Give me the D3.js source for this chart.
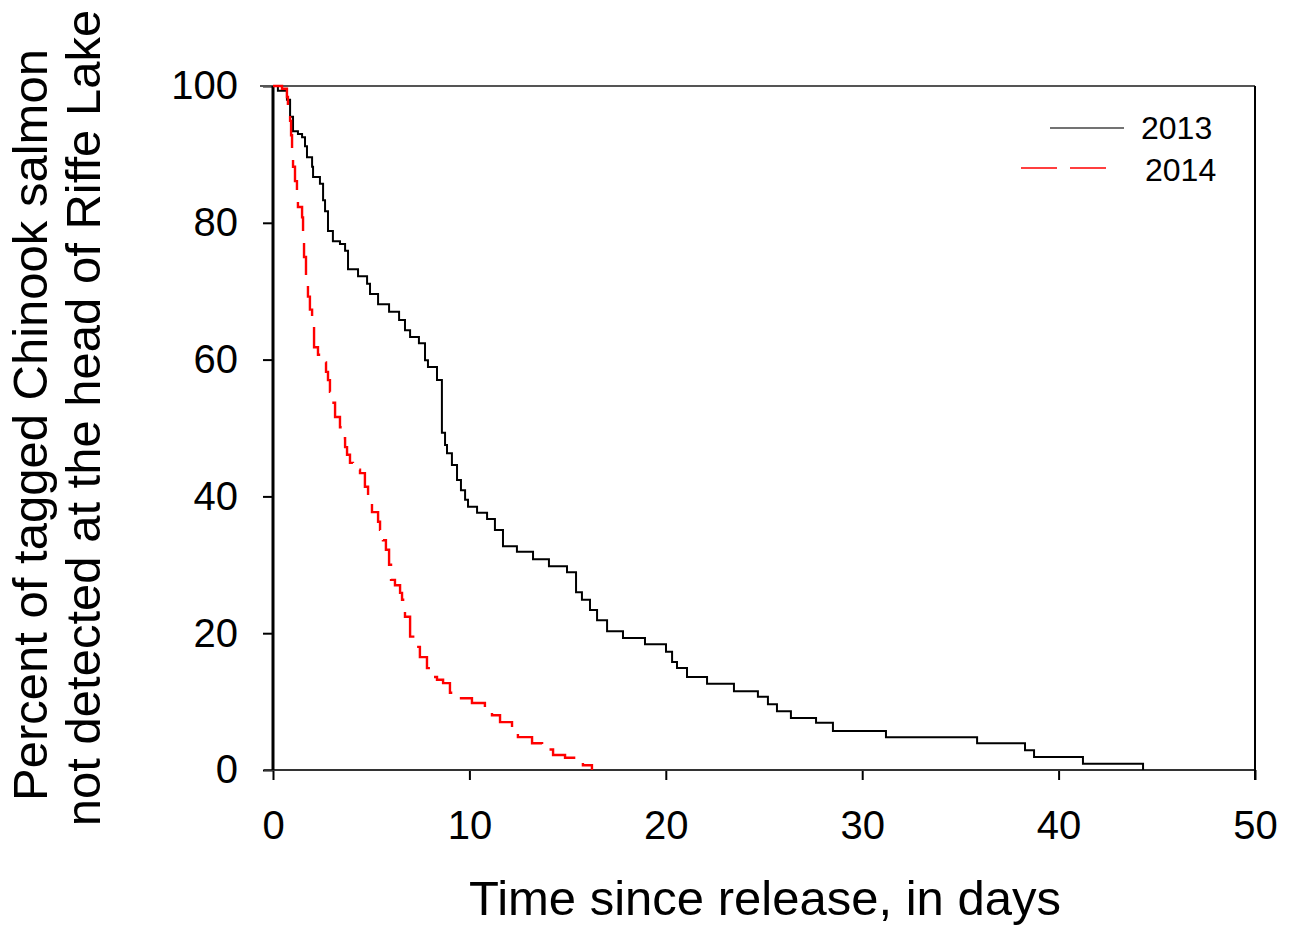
<html><head>
<meta charset="utf-8">
<title>Chinook salmon detection</title>
<script src="https://d3js.org/d3.v7.min.js"></script>
<style>
body { margin: 0; background: #fff; }
text { font-family: Arial, "Liberation Sans", sans-serif; fill: #000; }
</style>
</head>
<body>
<div id="chart"></div>
<script>

// data
var years = ["2013", "2014"];

var days2013 = [0, 0.25, 0.71, 0.87, 1.02, 1.27, 1.48, 1.63, 1.73, 1.99, 2.04, 2.39, 2.55, 2.65, 2.80, 3.05,
  3.41, 3.67, 3.82, 4.33, 4.79, 4.94, 5.35, 5.91, 6.42, 6.72, 6.98, 7.43, 7.74, 7.89, 8.35, 8.60, 8.76,
  8.86, 9.11, 9.37, 9.57, 9.78, 9.93, 10.39, 10.90, 11.30, 11.71, 12.42, 13.24, 14.05, 14.97, 15.43,
  15.73, 16.14, 16.50, 17.01, 17.82, 18.94, 20.01, 20.32, 20.57, 21.08, 22.10, 23.47, 24.69, 25.20,
  25.66, 26.37, 27.65, 28.51, 31.21, 35.85, 38.29, 38.75, 41.24, 44.30];
var pct2013 = [100, 99.3, 98.0, 95.5, 93.4, 93.0, 92.5, 91.2, 89.6, 88.2, 86.7, 85.7, 83.3, 81.7, 78.8, 77.3,
  76.9, 75.9, 73.2, 72.2, 71.1, 69.6, 68.1, 67.0, 65.8, 64.3, 63.3, 62.4, 59.9, 58.9, 57.0, 49.3, 47.5,
  46.3, 44.6, 42.4, 40.9, 39.5, 38.5, 37.6, 36.7, 35.1, 32.7, 31.9, 30.8, 29.8, 28.9, 26.0,
  24.9, 23.4, 21.9, 20.3, 19.3, 18.4, 17.3, 15.8, 14.9, 13.6, 12.6, 11.5, 10.7, 9.6,
  8.6, 7.6, 6.9, 5.7, 4.8, 3.9, 2.9, 1.9, 0.9, 0];

var days2014 = [0, 0.46, 0.71, 0.76, 0.87, 0.92, 0.97, 1.02, 1.12, 1.22, 1.27, 1.48, 1.53, 1.58, 1.68, 1.78,
  1.88, 1.99, 2.09, 2.29, 2.55, 2.70, 2.80, 2.90, 3.00, 3.16, 3.41, 3.56, 3.67, 3.77, 3.92, 4.07, 4.43,
  4.68, 4.84, 5.04, 5.35, 5.45, 5.60, 5.75, 5.91, 6.01, 6.21, 6.47, 6.57, 6.72, 6.98, 7.23, 7.48, 7.84,
  8.10, 8.35, 8.66, 9.01, 9.37, 10.13, 10.79, 11.15, 11.56, 12.17, 12.47, 13.19, 13.70, 14.26, 14.87,
  15.53, 15.78, 16.24];
var pct2014 = [100, 99.6, 98.4, 96.9, 94.9, 92.8, 90.6, 88.2, 86.1, 84.2, 82.3, 80.8, 77.9, 75.0, 71.5, 69.2,
  67.3, 64.8, 61.8, 60.7, 59.6, 58.2, 57.0, 55.3, 53.7, 51.6, 50.1, 48.5, 47.2, 46.1, 44.9, 43.9, 43.4,
  41.4, 39.0, 37.7, 36.3, 35.1, 33.6, 32.2, 30.0, 27.8, 27.0, 25.9, 24.9, 22.4, 19.5, 18.0, 16.5, 14.9,
  13.6, 13.2, 12.7, 11.3, 10.5, 9.8, 9.1, 8.0, 7.0, 5.8, 4.8, 3.9, 3.0, 2.2, 1.8,
  1.5, 0.7, 0];

var xTicks = [0, 10, 20, 30, 40, 50];
var yTicks = [0, 20, 40, 60, 80, 100];

var xTitle = "Time since release, in days";
var yTitle = ["Percent of tagged Chinook salmon", "not detected at the head of Riffe Lake"];


var margin = {top: 86, right: 38, bottom: 156, left: 273};
var width = 1293 - margin.left - margin.right;
var height = 926 - margin.top - margin.bottom;

var svg = d3.select("#chart")
  .append("svg")
    .attr("width", 1293)
    .attr("height", 926);

var g = svg.append("g")
    .attr("transform", "translate(" + margin.left + "," + margin.top + ")");

var x = d3.scaleLinear().domain([0, 50]).range([0, width]);
var y = d3.scaleLinear().domain([0, 100]).range([height, 0]);

// axes
var xAxis = g.append("g")
    .attr("transform", "translate(0," + height + ")")
    .call(d3.axisBottom(x).tickValues(xTicks).tickSize(10).tickPadding(31));
xAxis.select(".domain").remove();
xAxis.selectAll("line").attr("stroke", "#000").attr("stroke-width", 2);
xAxis.selectAll("text").style("font-size", "40px").attr("fill", "#000");

var yAxis = g.append("g")
    .call(d3.axisLeft(y).tickValues(yTicks).tickSize(10).tickPadding(25));
yAxis.select(".domain").remove();
yAxis.selectAll("line").attr("stroke", "#000").attr("stroke-width", 2);
yAxis.selectAll("text").style("font-size", "40px").attr("fill", "#000");

// frame
g.append("line")
  .attr("x1", -13).attr("x2", width).attr("y1", 0).attr("y2", 0)
  .attr("stroke", "#555").attr("stroke-width", 2);
g.append("line")
  .attr("x1", -9).attr("x2", width).attr("y1", height).attr("y2", height)
  .attr("stroke", "#333").attr("stroke-width", 2);
g.append("line")
  .attr("x1", width).attr("x2", width).attr("y1", 0).attr("y2", height + 10)
  .attr("stroke", "#000").attr("stroke-width", 2);
g.append("line")
  .attr("x1", 0).attr("x2", 0).attr("y1", 0).attr("y2", height)
  .attr("stroke", "#000").attr("stroke-width", 3);

// step curves
var line = d3.line()
  .x(function(d) { return x(d[0]); })
  .y(function(d) { return y(d[1]); })
  .curve(d3.curveStepAfter);

var d2013 = days2013.map(function(d, i) { return [d, pct2013[i]]; });
var d2014 = days2014.map(function(d, i) { return [d, pct2014[i]]; });

g.append("path")
  .datum(d2013)
  .attr("fill", "none")
  .attr("stroke", "#000")
  .attr("stroke-width", 2)
  .attr("d", line);

g.append("path")
  .datum(d2014)
  .attr("fill", "none")
  .attr("stroke", "#ff0000")
  .attr("stroke-width", 2.4)
  .attr("stroke-dasharray", "34,13")
  .attr("d", line);

// legend
svg.append("line")
  .attr("x1", 1050).attr("x2", 1124).attr("y1", 128).attr("y2", 128)
  .attr("stroke", "#444").attr("stroke-width", 1.5);
svg.append("text")
  .attr("x", 1141).attr("y", 139)
  .style("font-size", "32px")
  .text(years[0]);

svg.append("line")
  .attr("x1", 1021).attr("x2", 1107).attr("y1", 168).attr("y2", 168)
  .attr("stroke", "#ff0000").attr("stroke-width", 1.5)
  .attr("stroke-dasharray", "36,13");
svg.append("text")
  .attr("x", 1145).attr("y", 181)
  .style("font-size", "32px")
  .text(years[1]);

// titles
svg.append("text")
  .attr("x", margin.left + width / 2 + 1)
  .attr("y", 915)
  .attr("text-anchor", "middle")
  .style("font-size", "49px")
  .text(xTitle);

svg.append("text")
  .attr("transform", "translate(47,425) rotate(-90)")
  .attr("text-anchor", "middle")
  .style("font-size", "49px")
  .text(yTitle[0]);

svg.append("text")
  .attr("transform", "translate(100,418) rotate(-90)")
  .attr("text-anchor", "middle")
  .style("font-size", "49px")
  .text(yTitle[1]);

</script>
</body></html>
